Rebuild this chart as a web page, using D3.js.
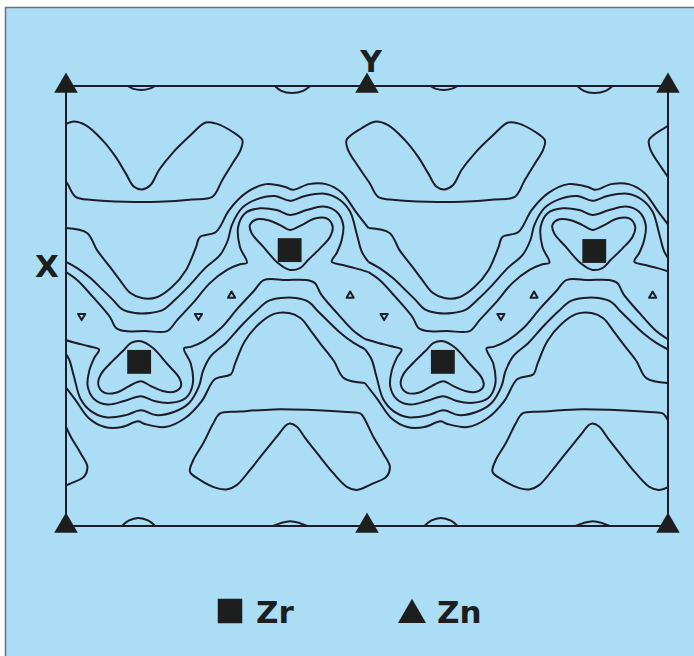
<!DOCTYPE html>
<html><head><meta charset="utf-8">
<script src="https://cdn.jsdelivr.net/npm/d3@7"></script>
<style>html,body{margin:0;padding:0;background:#fff;}</style>
</head><body>
<script>
// Map coordinates in percent of the unit cell: horizontal 0..200 (two cells along Y), vertical 0..100 (along X)
const cellShift = [-100.5, 0, 100.5, 201];
const zrX = [74.3, 175.5, 24.3, 125.2];
const zrY = [37.3, 37.5, 62.7, 62.7];
const znX = [0, 100, 200, 0, 100, 200];
const znY = [0, 0, 0, 100, 100, 100];
const legendLabels = ["Zr", "Zn"];
const axisLabels = ["Y", "X"];

// periodic wavy contours above (U) and below (L) the Zr ridge
const contourU4 = [[0,32.3],[7.0,33.4],[10.3,37.3],[14.6,41.1],[17.9,44.1],[21.3,47.0],[25.2,48.2],[30.2,48.0],[35.2,45.7],[39.9,41.8],[43.2,36.6],[44.5,34.3],[49.8,33.2],[54.2,28.2],[59.8,24.3],[66.4,22.3],[73.1,23.0],[75.4,23.6],[80.7,22.3],[86.4,22.3],[91.7,24.3],[96.3,28.6],[100.5,32.3]];
const contourU3 = [[0,40.0],[3.7,41.4],[8.0,43.6],[12.3,46.4],[15.6,48.6],[18.6,50.7],[22.9,51.6],[27.9,51.6],[32.2,50.9],[36.2,48.6],[41.2,45.2],[46.2,41.4],[51.2,38.4],[53.8,35.0],[55.1,31.6],[58.5,27.7],[63.5,25.7],[69.4,25.0],[74.4,26.1],[79.4,25.0],[86.0,24.5],[91.0,25.9],[94.4,28.6],[96.7,33.9],[98.3,37.7],[100.5,40.0]];
const contourU2 = [[0,42.3],[3.7,44.1],[9.0,48.0],[14.6,52.5],[16.6,55.0],[19.6,55.7],[26.2,55.7],[33.6,55.7],[36.9,53.2],[42.2,49.3],[47.8,44.8],[53.5,41.8],[57.8,40.5],[60.1,40.2],[57.8,36.6],[57.2,32.0],[59.5,28.9],[64.5,27.8],[70.0,28.2],[74.4,29.3],[80.0,28.2],[85.5,27.4],[89.9,28.6],[92.1,31.6],[91.6,35.0],[89.9,38.0],[88.3,39.9],[92.0,40.7],[96.0,41.4],[100.5,42.3]];
const contourL4 = [[99.3,67.5],[92.3,66.4],[89.0,62.5],[84.7,58.7],[81.4,55.7],[78.0,52.8],[74.1,51.6],[69.1,51.8],[64.1,54.1],[59.4,58.0],[56.1,63.2],[54.8,65.5],[49.5,66.6],[45.1,71.6],[39.5,75.5],[32.9,77.5],[26.2,76.8],[23.9,76.2],[18.6,77.5],[12.9,77.5],[7.6,75.5],[3.0,71.2],[-1.2,67.5]];
const contourL3 = [[99.3,59.8],[95.6,58.4],[91.3,56.2],[87.0,53.4],[83.7,51.2],[80.7,49.1],[76.4,48.2],[71.4,48.2],[67.1,48.9],[63.1,51.2],[58.1,54.6],[53.1,58.4],[48.1,61.4],[45.5,64.8],[44.2,68.2],[40.8,72.1],[35.8,74.1],[29.9,74.8],[24.9,73.7],[19.9,74.8],[13.3,75.3],[8.3,73.9],[4.9,71.2],[2.6,65.9],[1.0,62.1],[-1.2,59.8]];
const contourL2 = [[99.3,57.5],[95.6,55.7],[90.3,51.8],[84.7,47.3],[82.7,44.8],[79.7,44.1],[73.1,44.1],[65.7,44.1],[62.4,46.6],[57.1,50.5],[51.5,55.0],[45.8,58.0],[41.5,59.3],[39.2,59.6],[41.5,63.2],[42.1,67.8],[39.8,70.9],[34.8,72.0],[29.3,71.6],[24.9,70.5],[19.3,71.6],[13.8,72.4],[9.4,71.2],[7.2,68.2],[7.7,64.8],[9.4,61.8],[11.0,59.9],[7.3,59.1],[3.3,58.4],[-1.2,57.5]];

// closed contours of one cell
const heartUpper = [[74.4,41.8],[70.5,40.3],[65.5,36.5],[61.7,33.5],[61.1,31.6],[63.4,30.3],[67.2,30.5],[71.1,31.6],[74.4,32.7],[78.3,31.6],[82.7,30.1],[86.6,30.1],[88.6,32.0],[87.7,34.3],[84.4,36.9],[80.5,39.5],[77.7,41.4]];
const heartLower = [[24.9,58.0],[28.8,59.5],[33.8,63.3],[37.6,66.3],[38.2,68.2],[35.9,69.5],[32.1,69.3],[28.2,68.2],[24.9,67.1],[21.0,68.2],[16.6,69.7],[12.7,69.7],[10.7,67.8],[11.6,65.5],[14.9,62.9],[18.8,60.3],[21.6,58.4]];
const contourV = [[2.1,8.1],[6.5,8.9],[12.1,12.3],[16.5,16.1],[19.8,19.8],[22.6,22.9],[25.3,23.5],[28.1,22.5],[30.9,19.1],[35.3,15.3],[40.9,11.5],[46.4,8.3],[49.7,8.5],[55.3,10.4],[58.6,12.3],[58.0,14.5],[55.3,17.6],[51.9,21.4],[48.6,25.2],[41.9,25.8],[30.9,26.3],[19.8,26.3],[8.8,25.9],[3.2,25.2],[0.4,22.1],[-3.4,18.3],[-6.8,14.5],[-7.3,12.3],[-2.3,9.6]];
const contourLambda = [[51.2,74.4],[57.8,74.0],[68.9,73.5],[80.0,73.6],[91.0,74.0],[97.7,74.4],[98.8,75.2],[102.1,79.7],[105.4,83.5],[107.6,86.5],[106.5,88.8],[102.1,90.3],[96.6,91.8],[93.3,91.1],[88.8,88.0],[84.4,84.3],[80.0,80.5],[76.6,77.4],[74.4,76.7],[73.3,77.0],[70.0,79.7],[65.5,83.5],[61.1,87.3],[56.7,90.7],[53.4,91.7],[50.1,91.4],[44.5,89.5],[41.2,87.7],[42.3,85.0],[45.6,81.2],[48.9,76.7]];
const ridgeLoops = [
  [[4.0,51.8],[6.4,51.8],[5.2,53.2]],
  [[42.8,51.8],[45.2,51.8],[44.0,53.2]],
  [[55.0,46.7],[56.2,48.1],[53.8,48.1]],
  [[94.4,46.7],[95.6,48.1],[93.2,48.1]]
];
const edgeBumps = [
  [[20.6,0],[22.2,0.6],[25,0.9],[27.8,0.6],[29.6,0]],
  [[69.4,0],[71.5,1.1],[75,1.6],[78.8,1.1],[81.1,0]],
  [[18.6,100],[20.8,98.8],[24,98.2],[27.4,98.8],[29.6,100]],
  [[68.8,100],[71.5,99.3],[74.5,98.9],[77.5,99.3],[80.1,100]]
];

const W = 694, H = 656;
const ink = "#1d1c2a";
const x = d3.scaleLinear().domain([0, 200]).range([66, 668]);
const y = d3.scaleLinear().domain([0, 100]).range([86, 526]);

const svg = d3.select("body").append("svg").attr("width", W).attr("height", H)
  .style("display", "block");
svg.append("rect").attr("x", 5).attr("y", 7).attr("width", W - 5).attr("height", H - 7).attr("fill", "#abdef5");
svg.append("line").attr("x1", 5.5).attr("x2", 5.5).attr("y1", 7).attr("y2", H).attr("stroke", "#6d7178").attr("stroke-width", 1.5);
svg.append("line").attr("x1", 5).attr("x2", W).attr("y1", 7.5).attr("y2", 7.5).attr("stroke", "#6d7178").attr("stroke-width", 1.5);

svg.append("defs").append("clipPath").attr("id", "plotclip").append("rect")
  .attr("x", x(0)).attr("y", y(0)).attr("width", x(200) - x(0)).attr("height", y(100) - y(0));

const g = svg.append("g").attr("clip-path", "url(#plotclip)");
const openLine = (off) => d3.line().x(d => x(d[0] + off)).y(d => y(d[1])).curve(d3.curveCatmullRom.alpha(0.5));
const closedLine = (off) => d3.line().x(d => x(d[0] + off)).y(d => y(d[1])).curve(d3.curveCatmullRomClosed.alpha(0.5));
const polyLine = (off) => d3.line().x(d => x(d[0] + off)).y(d => y(d[1])).curve(d3.curveLinearClosed);

const wavy = [contourU4, contourU3, contourU2, contourL4, contourL3, contourL2];
cellShift.forEach(off => {
  wavy.forEach(c => g.append("path").attr("d", openLine(off)(c)).attr("fill", "none").attr("stroke", ink).attr("stroke-width", 2));
  [contourV, contourLambda].forEach(c => g.append("path").attr("d", closedLine(off)(c)).attr("fill", "none").attr("stroke", ink).attr("stroke-width", 2));
});
[0, 100.5].forEach(off => {
  [heartUpper, heartLower].forEach(c => g.append("path").attr("d", closedLine(off)(c)).attr("fill", "none").attr("stroke", ink).attr("stroke-width", 2));
  ridgeLoops.forEach(c => g.append("path").attr("d", polyLine(off)(c)).attr("fill", "none").attr("stroke", ink).attr("stroke-width", 2).attr("stroke-linejoin", "round"));
  edgeBumps.forEach(c => g.append("path").attr("d", openLine(off)(c)).attr("fill", "none").attr("stroke", ink).attr("stroke-width", 2));
});

// frame of the map
svg.append("rect").attr("x", x(0)).attr("y", y(0)).attr("width", x(200) - x(0)).attr("height", y(100) - y(0))
  .attr("fill", "none").attr("stroke", ink).attr("stroke-width", 2);

// atoms
svg.selectAll(".zr").data(zrX).join("path").attr("class", "zr")
  .attr("transform", (d, i) => `translate(${x(d)},${y(zrY[i])})`)
  .attr("d", d3.symbol(d3.symbolSquare, 570)()).attr("fill", "#1c1f1e");
svg.selectAll(".zn").data(znX).join("path").attr("class", "zn")
  .attr("transform", (d, i) => `translate(${x(d)},${y(znY[i])})`)
  .attr("d", d3.symbol(d3.symbolTriangle, 240)()).attr("fill", "#1c1f1e");

// axis labels
const font = "'DejaVu Sans', sans-serif";
svg.append("text").attr("x", 371).attr("y", 72).attr("text-anchor", "middle")
  .style("font-family", font).style("font-weight", "bold").style("font-size", "30px").attr("fill", "#1c1f1e").text(axisLabels[0]);
svg.append("text").attr("x", 47).attr("y", 277).attr("text-anchor", "middle")
  .style("font-family", font).style("font-weight", "bold").style("font-size", "31px").attr("fill", "#1c1f1e").text(axisLabels[1]);

// legend
svg.append("path").attr("transform", "translate(230,611)").attr("d", d3.symbol(d3.symbolSquare, 600)()).attr("fill", "#1c1f1e");
svg.append("text").attr("x", 256).attr("y", 623).style("font-family", font).style("font-weight", "bold").style("font-size", "31px").attr("fill", "#1c1f1e").text(legendLabels[0]);
svg.append("path").attr("transform", "translate(412,615)").attr("d", d3.symbol(d3.symbolTriangle, 340)()).attr("fill", "#1c1f1e");
svg.append("text").attr("x", 437).attr("y", 623).style("font-family", font).style("font-weight", "bold").style("font-size", "31px").attr("fill", "#1c1f1e").text(legendLabels[1]);
</script>
</body></html>
